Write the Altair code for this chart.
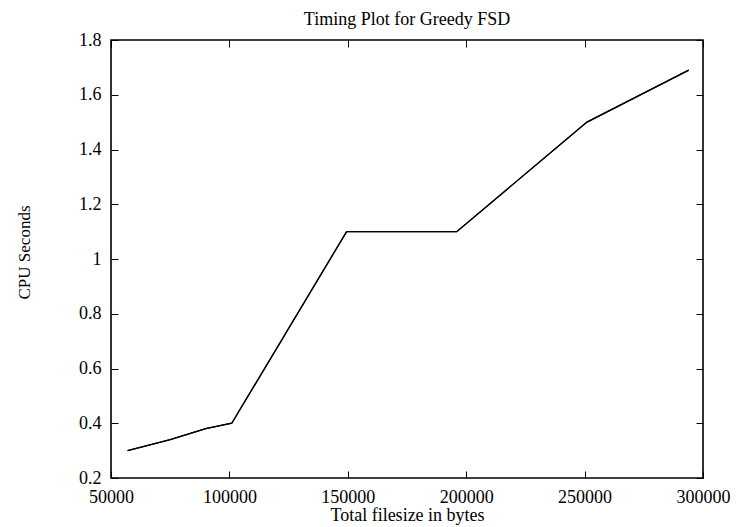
import altair as alt
import pandas as pd

filesize = [57000, 75000, 90000, 101000, 149500, 196000, 251000, 294000]
cpu_seconds = [0.30, 0.34, 0.38, 0.40, 1.10, 1.10, 1.50, 1.69]
x_ticks = [50000, 100000, 150000, 200000, 250000, 300000]
y_ticks = [0.2, 0.4, 0.6, 0.8, 1.0, 1.2, 1.4, 1.6, 1.8]

df = pd.DataFrame({"size": filesize, "cpu": cpu_seconds})

FONT = "Liberation Serif"
xscale = alt.Scale(domain=[50000, 300000], nice=False, zero=False)
yscale = alt.Scale(domain=[0.2, 1.8], nice=False, zero=False)

common = dict(domain=False, grid=False, tickColor="black", tickSize=7,
              tickWidth=1, offset=-7, labelFont=FONT, labelFontSize=18,
              labelColor="black", labelFlush=False, labelOverlap=False,
              titleFont=FONT, titleColor="black", titleFontWeight="normal")

main = alt.Chart(df).mark_line(color="black", strokeWidth=1.3).encode(
    x=alt.X("size:Q", scale=xscale,
            axis=alt.Axis(values=x_ticks, format="d", labelPadding=10,
                          title="Total filesize in bytes", titleY=49,
                          titleFontSize=18,
                          titleBaseline="alphabetic", **common)),
    y=alt.Y("cpu:Q", scale=yscale,
            axis=alt.Axis(values=y_ticks, format="~g", labelPadding=10,
                          title="CPU Seconds", titleAngle=270,
                          titleFontSize=17,
                          titleX=-89, titleY=212, titleAlign="center",
                          titleBaseline="alphabetic", **common)),
)

mirror = alt.Chart(df).mark_line(color="black", strokeWidth=1.3).encode(
    x=alt.X("size:Q", scale=xscale,
            axis=alt.Axis(values=x_ticks, orient="top", labels=False,
                          title=None, **common)),
    y=alt.Y("cpu:Q", scale=yscale,
            axis=alt.Axis(values=y_ticks, orient="right", labels=False,
                          title=None, **common)),
)

chart = alt.layer(main, mirror).resolve_axis(
    x="independent", y="independent"
).properties(
    width=592,
    height=438,
    background="white",
    autosize=alt.AutoSizeParams(type="none"),
    padding={"left": 111, "top": 40, "right": 33, "bottom": 49},
    title=alt.TitleParams("Timing Plot for Greedy FSD", font=FONT, fontSize=18,
                          fontWeight="normal", color="black", offset=2,
                          frame="group", anchor="middle"),
).configure_view(
    stroke="black", strokeWidth=1.6
)

chart.save("out.html", embed_options={"renderer": "svg", "actions": False})
